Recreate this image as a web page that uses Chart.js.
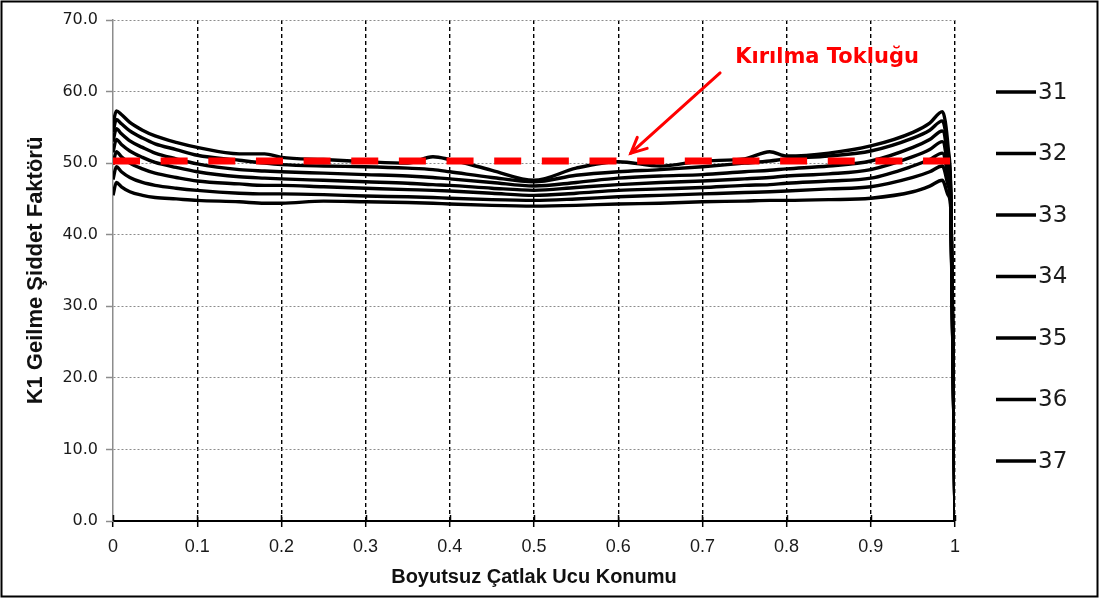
<!DOCTYPE html>
<html>
<head>
<meta charset="utf-8">
<script src="https://cdn.jsdelivr.net/npm/chart.js@4/dist/chart.umd.min.js"></script>
<style>
  html, body { margin: 0; padding: 0; background: #fff; }
  canvas { display: block; }
</style>
</head>
<body>
<canvas id="chart" width="1099" height="599"></canvas>
<script>
// Dimensionless crack-tip position along the crack front
const xPos = [0, 0.004, 0.01, 0.02, 0.035, 0.05, 0.075, 0.1, 0.15, 0.18, 0.2, 0.25, 0.3, 0.35, 0.38, 0.4,
              0.45, 0.5, 0.55, 0.6, 0.65, 0.7, 0.75, 0.78, 0.8, 0.85, 0.9, 0.95, 0.97, 0.985, 0.992, 0.995, 1.0];

// K1 stress intensity factor for each crack step
const k31 = [55.5, 57.3, 56.8, 55.7, 54.6, 53.8, 52.9, 52.2, 51.3, 51.3, 50.8, 50.5, 50.2, 50.0, 50.9, 50.5,
             49.0, 47.6, 49.3, 50.2, 49.6, 50.3, 50.6, 51.6, 51.0, 51.4, 52.4, 54.3, 55.6, 57.2, 52.0, 46.0, 0];
const k32 = [54.3, 56.1, 55.5, 54.5, 53.5, 52.7, 51.9, 51.1, 50.4, 50.0, 49.8, 49.6, 49.5, 49.3, 49.1, 48.8,
             48.0, 47.4, 48.3, 48.8, 49.1, 49.5, 50.0, 50.3, 50.6, 51.0, 51.7, 53.5, 54.6, 55.9, 51.0, 45.6, 0];
const k33 = [53.0, 54.8, 54.1, 53.1, 52.2, 51.4, 50.6, 49.9, 49.1, 48.9, 48.8, 48.6, 48.4, 48.2, 48.0, 47.8,
             47.3, 46.8, 47.3, 47.9, 48.2, 48.4, 48.8, 49.0, 49.2, 49.6, 50.3, 52.2, 53.3, 54.5, 50.0, 45.2, 0];
const k34 = [51.5, 53.3, 52.6, 51.7, 50.8, 50.1, 49.4, 48.8, 48.1, 47.9, 47.8, 47.6, 47.4, 47.2, 47.0, 46.9,
             46.5, 46.2, 46.6, 47.0, 47.3, 47.5, 47.8, 48.0, 48.2, 48.5, 49.1, 50.9, 51.9, 53.0, 49.0, 44.8, 0];
const k35 = [49.8, 51.6, 50.9, 50.0, 49.2, 48.6, 48.0, 47.5, 47.1, 46.9, 46.9, 46.7, 46.5, 46.3, 46.2, 46.1,
             45.8, 45.5, 45.8, 46.2, 46.4, 46.6, 46.9, 47.0, 47.2, 47.5, 47.9, 49.6, 50.5, 51.4, 48.0, 44.4, 0];
const k36 = [47.7, 49.5, 48.8, 48.0, 47.3, 46.9, 46.5, 46.2, 45.8, 45.7, 45.7, 45.6, 45.4, 45.3, 45.2, 45.1,
             44.9, 44.8, 45.0, 45.3, 45.5, 45.7, 45.9, 46.0, 46.1, 46.4, 46.7, 48.0, 48.8, 49.6, 46.8, 44.0, 0];
const k37 = [45.5, 47.3, 46.7, 46.0, 45.5, 45.2, 45.0, 44.8, 44.6, 44.4, 44.4, 44.7, 44.6, 44.5, 44.4, 44.3,
             44.1, 44.0, 44.1, 44.3, 44.4, 44.6, 44.7, 44.8, 44.8, 44.9, 45.1, 46.0, 46.8, 47.6, 45.5, 43.6, 0];

const seriesNames = ['31', '32', '33', '34', '35', '36', '37'];
const seriesValues = [k31, k32, k33, k34, k35, k36, k37];

// Fracture toughness level (horizontal reference line)
const toughness = 50.3;
const toughnessLabel = 'Kırılma Tokluğu';

// Axis setup
const xMin = 0, xMax = 1, xStep = 0.1;
const yMin = 0, yMax = 70, yStep = 10;
const xTitle = 'Boyutsuz Çatlak Ucu Konumu';
const yTitle = 'K1 Geilme Şiddet Faktörü';

const datasets = seriesValues.map((vals, i) => ({
  label: seriesNames[i],
  data: vals.map((v, j) => ({ x: xPos[j], y: v })),
  borderColor: '#000',
  backgroundColor: '#000',
  borderWidth: 3.4,
  pointRadius: 0,
  cubicInterpolationMode: 'monotone',
  order: 1,
  inLegend: true
}));

datasets.push({
  label: toughnessLabel,
  data: [{ x: xMin, y: toughness }, { x: xMax, y: toughness }],
  borderColor: '#ff0000',
  borderWidth: 7,
  borderDash: [27, 20.65],
  borderCapStyle: 'butt',
  pointRadius: 0,
  order: 0,
  inLegend: false
});

// White page, outer frame, series key, toughness callout and the upper half of x tick marks
const decorations = {
  id: 'decorations',
  beforeDraw(chart) {
    const ctx = chart.ctx;
    ctx.save();
    ctx.fillStyle = '#fff';
    ctx.fillRect(0, 0, chart.width, chart.height);
    ctx.restore();
  },
  afterDraw(chart) {
    const ctx = chart.ctx;
    const area = chart.chartArea;
    const xs = chart.scales.x, ys = chart.scales.y;
    ctx.save();

    // tick marks crossing the x axis
    ctx.strokeStyle = '#000';
    ctx.lineWidth = 1.5;
    xs.ticks.forEach(t => {
      const px = Math.round(xs.getPixelForValue(t.value)) + 0.5;
      ctx.beginPath();
      ctx.moveTo(px, area.bottom - 6);
      ctx.lineTo(px, area.bottom);
      ctx.stroke();
    });

    // series key on the right
    const items = chart.data.datasets.filter(d => d.inLegend);
    const keyX = area.right + 41;
    const keyTop = area.top + 72;
    const keyStep = 61.5;
    ctx.font = '23px "DejaVu Sans", sans-serif';
    ctx.textBaseline = 'middle';
    ctx.textAlign = 'left';
    items.forEach((d, i) => {
      const y = keyTop + i * keyStep;
      ctx.strokeStyle = d.borderColor;
      ctx.lineWidth = 3.5;
      ctx.beginPath();
      ctx.moveTo(keyX, y);
      ctx.lineTo(keyX + 40, y);
      ctx.stroke();
      ctx.fillStyle = '#1a1a1a';
      ctx.fillText(d.label, keyX + 42, y + 1);
    });

    // toughness callout with arrow
    const red = '#ff0000';
    const tx = xs.getPixelForValue(0.739), ty = ys.getPixelForValue(64.7);
    ctx.fillStyle = red;
    ctx.font = 'bold 21px "DejaVu Sans", sans-serif';
    ctx.textBaseline = 'middle';
    ctx.fillText(toughnessLabel, tx, ty);

    const ax0 = xs.getPixelForValue(0.721), ay0 = ys.getPixelForValue(62.6);
    const ax1 = xs.getPixelForValue(0.615), ay1 = ys.getPixelForValue(51.4);
    ctx.strokeStyle = red;
    ctx.lineWidth = 3;
    ctx.lineCap = 'round';
    ctx.beginPath();
    ctx.moveTo(ax0, ay0);
    ctx.lineTo(ax1, ay1);
    ctx.stroke();
    const ang = Math.atan2(ay1 - ay0, ax1 - ax0);
    const head = 17, spread = 0.45;
    ctx.beginPath();
    ctx.moveTo(ax1 - head * Math.cos(ang - spread), ay1 - head * Math.sin(ang - spread));
    ctx.lineTo(ax1, ay1);
    ctx.lineTo(ax1 - head * Math.cos(ang + spread), ay1 - head * Math.sin(ang + spread));
    ctx.stroke();

    // outer frame
    ctx.strokeStyle = '#000';
    ctx.lineWidth = 2;
    ctx.lineCap = 'butt';
    ctx.strokeRect(1.5, 1.5, chart.width - 3, chart.height - 4);
    ctx.restore();
  }
};

new Chart(document.getElementById('chart'), {
  type: 'line',
  data: { datasets },
  options: {
    responsive: false,
    animation: false,
    events: [],
    layout: { padding: { top: 20, right: 144, bottom: 0, left: 0 } },
    plugins: {
      legend: { display: false },
      tooltip: { enabled: false }
    },
    scales: {
      x: {
        type: 'linear',
        min: xMin, max: xMax,
        ticks: {
          stepSize: xStep,
          autoSkip: false,
          maxRotation: 0,
          padding: 9,
          color: '#1a1a1a',
          font: { family: '"Liberation Sans Narrow", "Liberation Sans", sans-serif', size: 18 },
          callback: v => String(Math.round(v * 10) / 10)
        },
        grid: {
          color: c => (c.tick && c.tick.value === 0 ? 'rgba(0,0,0,0)' : '#000'),
          lineWidth: 1.4,
          tickColor: '#000',
          tickWidth: 1.5,
          tickLength: 6,
          tickBorderDash: []
        },
        border: { display: true, color: '#000', width: 2, dash: [4, 3] },
        title: {
          display: true,
          text: xTitle,
          color: '#111',
          font: { family: '"Liberation Sans", sans-serif', size: 20, weight: 'bold' },
          padding: { top: 0, bottom: 10 }
        },
        afterFit: s => { s.height = 78; }
      },
      y: {
        min: yMin, max: yMax,
        ticks: {
          stepSize: yStep,
          padding: 8,
          color: '#1a1a1a',
          font: { family: '"DejaVu Sans", sans-serif', size: 16 },
          callback: v => v.toFixed(1)
        },
        grid: {
          color: '#8c8c8c',
          lineWidth: 1,
          tickColor: '#8c8c8c',
          tickWidth: 1.5,
          tickLength: 7,
          tickBorderDash: []
        },
        border: { display: true, color: '#8c8c8c', width: 1.5, dash: [2, 2] },
        title: {
          display: true,
          text: yTitle,
          color: '#111',
          font: { family: '"Liberation Sans", sans-serif', size: 22, weight: 'bold' },
          padding: { top: 23, bottom: 0 }
        },
        afterFit: s => { s.width = 113; }
      }
    }
  },
  plugins: [decorations]
});
</script>
</body>
</html>
